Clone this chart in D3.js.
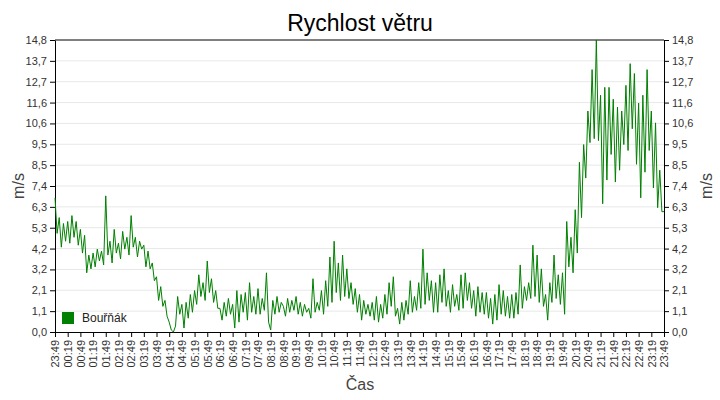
<!DOCTYPE html>
<html><head><meta charset="utf-8">
<script src="https://cdn.jsdelivr.net/npm/d3@7"></script>
<style>body{margin:0;background:#fff}svg{display:block;font-family:"Liberation Sans",Arial,sans-serif}</style>
</head><body><svg id="c" width="720" height="400"></svg>
<script>
const timeLabels = ["23:49","00:19","00:49","01:19","01:49","02:19","02:49","03:19","03:49","04:19","04:49","05:19","05:49","06:19","06:49","07:19","07:49","08:19","08:49","09:19","09:49","10:19","10:49","11:19","11:49","12:19","12:49","13:19","13:49","14:19","14:49","15:19","15:49","16:19","16:49","17:19","17:49","18:19","18:49","19:19","19:49","20:19","20:49","21:19","21:49","22:19","22:49","23:19","23:49"];
const yTickLabels = ["0,0","1,1","2,1","3,2","4,2","5,3","6,3","7,4","8,5","9,5","10,6","11,6","12,7","13,7","14,8"];
const seriesName = "Bouřňák";
const windSpeed = [
6.8,5.0,5.8,4.3,5.5,4.6, 5.6,4.5,5.9,4.8,5.6,4.4, 5.2,4.0,4.9,3.0,3.9,3.2, 4.0,3.3,4.2,3.6,4.1,3.4,
6.9,3.9,4.6,3.5,5.2,4.0, 4.5,3.7,5.1,4.2,4.8,3.9, 5.9,4.3,4.8,3.8,4.6,4.2, 4.4,3.3,4.1,3.2,3.5,2.6,
2.8,1.6,2.3,1.3,1.6,0.8, 0.5,0.1,0.0,0.3,1.8,0.9, 1.4,0.2,1.5,0.7,1.9,1.0, 2.1,1.4,2.9,1.8,2.5,1.6,
3.6,2.0,2.7,1.5,2.1,1.2, 1.2,0.6,1.5,0.8,1.7,0.9, 1.4,0.2,2.1,0.5,1.9,1.0, 2.0,0.6,2.5,1.0,1.8,0.9,
2.2,0.9,1.7,1.1,3.0,0.5, 0.1,1.6,0.9,1.8,1.0,1.5, 1.3,0.8,1.7,1.0,1.6,1.1, 1.8,0.9,1.5,0.8,1.4,1.0,
1.2,0.7,2.7,1.0,1.5,1.1, 2.1,0.9,2.6,1.3,3.8,1.5, 4.6,2.0,3.5,1.6,3.9,1.8, 3.2,1.7,2.5,1.4,2.2,1.0,
1.9,0.6,1.6,0.9,1.4,0.8, 1.5,0.6,1.8,0.5,1.4,0.7, 1.9,0.9,2.5,1.3,2.8,0.8, 1.2,0.4,1.5,0.6,1.6,0.9,
2.6,1.0,1.8,1.1,2.5,1.2, 4.2,1.4,3.0,1.6,2.6,1.0, 2.5,1.0,2.9,1.5,3.2,1.3, 2.1,1.0,2.4,1.3,1.9,1.1,
2.9,1.2,3.0,1.6,2.5,1.2, 2.1,0.8,2.3,1.0,2.0,0.9, 2.0,0.7,1.7,0.4,1.9,0.6, 2.4,0.9,2.1,0.8,1.8,0.7,
1.9,0.7,2.0,0.9,3.4,1.2, 2.3,1.6,2.5,1.7,4.4,1.8, 3.9,1.5,3.2,1.3,1.9,0.6, 2.5,1.5,3.9,1.7,2.9,1.4,
3.0,0.9,5.6,3.3,4.8,3.0, 6.2,4.0,8.6,5.8,9.5,7.8, 11.2,9.6,13.3,9.8,14.8,9.7, 12.0,6.5,12.4,7.7,12.4,9.0,
11.8,7.6,11.4,8.2,11.2,9.5, 12.5,9.2,13.6,10.3,13.1,8.5, 11.6,6.8,12.0,8.1,13.3,9.2, 11.2,7.3,10.6,6.3,8.2,6.1,
6.1];

const svg = d3.select("#c");
const L=55, R=664, T=40, B=332;
const x = d3.scaleLinear().domain([0, windSpeed.length-1]).range([L,R]);
const y = d3.scaleLinear().domain([0,14.8]).range([B,T]);
const yTicks = d3.range(15).map(i=>i*14.8/14);
const step = (windSpeed.length-1)/(timeLabels.length-1);

svg.append("g").selectAll("line").data(yTicks.slice(1,-1)).join("line")
  .attr("x1",L).attr("x2",R).attr("y1",d=>y(d)).attr("y2",d=>y(d))
  .attr("stroke","#e8e8e8");

const yfmt = (d,i)=>yTickLabels[i];
const ga = svg.append("g").attr("transform",`translate(${L},0)`)
  .call(d3.axisLeft(y).tickValues(yTicks).tickFormat(yfmt).tickSize(5).tickSizeOuter(0));
const gb = svg.append("g").attr("transform",`translate(${R},0)`)
  .call(d3.axisRight(y).tickValues(yTicks).tickFormat(yfmt).tickSize(5).tickSizeOuter(0));
const gx = svg.append("g").attr("transform",`translate(0,${B})`)
  .call(d3.axisBottom(x).tickValues(d3.range(timeLabels.length).map(i=>i*step))
    .tickFormat((d,i)=>timeLabels[i]).tickSize(5).tickSizeOuter(0));
gx.selectAll("text").attr("transform","rotate(-90)").attr("text-anchor","end")
  .attr("x",-8).attr("y",0).attr("dy","0.35em");
[ga,gb,gx].forEach(g=>{
  g.selectAll("text").attr("fill","#333").style("font-size","11px").style("font-family","'Liberation Sans',Arial,sans-serif");
  g.selectAll("line,path").attr("stroke","#000");
});
svg.append("line").attr("x1",L).attr("x2",R).attr("y1",T).attr("y2",T).attr("stroke","#000");

svg.append("path").datum(windSpeed)
  .attr("d", d3.line().x((d,i)=>x(i)).y(d=>y(d)))
  .attr("fill","none").attr("stroke","#008000").attr("stroke-width",1);

svg.append("rect").attr("x",62).attr("y",312).attr("width",12).attr("height",12).attr("fill","#008000");
svg.append("text").attr("x",82).attr("y",322).text(seriesName).style("font-size","12px").attr("fill","#222");

svg.append("text").attr("x",360).attr("y",31).attr("text-anchor","middle").text("Rychlost větru")
  .style("font-size","23px").attr("fill","#000");
svg.append("text").attr("transform","translate(24,186) rotate(-90)").attr("text-anchor","middle")
  .text("m/s").style("font-size","16px").attr("fill","#444");
svg.append("text").attr("transform","translate(712,186) rotate(-90)").attr("text-anchor","middle")
  .text("m/s").style("font-size","16px").attr("fill","#444");
svg.append("text").attr("x",360).attr("y",390).attr("text-anchor","middle")
  .text("Čas").style("font-size","16px").attr("fill","#444");
</script></body></html>
